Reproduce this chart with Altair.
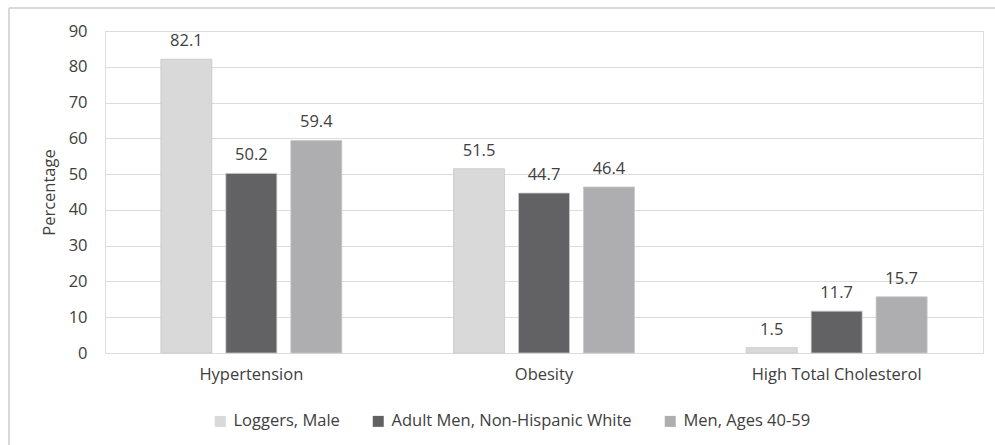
import altair as alt
import pandas as pd

categories = ["Hypertension", "Obesity", "High Total Cholesterol"]
series = ["Loggers, Male", "Adult Men, Non-Hispanic White", "Men, Ages 40-59"]
loggers = [82.1, 51.5, 1.5]
adult_men = [50.2, 44.7, 11.7]
men_40_59 = [59.4, 46.4, 15.7]
colors = ["#D9D9D9", "#626264", "#AEAEB0"]

rows = []
for i, c in enumerate(categories):
    for s, vals in zip(series, [loggers, adult_men, men_40_59]):
        rows.append({"Condition": c, "Group": s, "Value": vals[i], "Label": f"{vals[i]:.1f}"})
df = pd.DataFrame(rows)

FONT = "Open Sans"
FS = 16.5
TXT = "#404040"

x = alt.X("Condition:N", sort=categories, title=None,
          scale=alt.Scale(paddingInner=0, paddingOuter=0),
          axis=alt.Axis(labelAngle=0, labelFontSize=FS, labelColor=TXT, labelFont=FONT,
                        domain=False, ticks=False, labelPadding=13))
xoff = alt.XOffset("Group:N", sort=series,
                   scale=alt.Scale(paddingInner=0.215, paddingOuter=0.86))
y = alt.Y("Value:Q", title="Percentage",
          scale=alt.Scale(domain=[0, 90], nice=False),
          axis=alt.Axis(values=list(range(0, 91, 10)), labelFontSize=FS, labelColor=TXT,
                        labelFont=FONT, titleFont=FONT, titleFontSize=FS, titleColor=TXT,
                        titleFontWeight="normal", domain=False, ticks=False, labelPadding=18,
                        titlePadding=11, gridColor="#DCDCDC", gridWidth=1.2))

bars = alt.Chart(df).mark_bar(stroke="#C8C8C8", strokeWidth=0.8).encode(
    x=x, xOffset=xoff, y=y,
    color=alt.Color("Group:N", sort=series,
                    scale=alt.Scale(domain=series, range=colors),
                    legend=alt.Legend(title=None, orient="none", direction="horizontal",
                                      legendX=107, legendY=382, symbolType="square",
                                      symbolSize=121, symbolStrokeWidth=0,
                                      labelFontSize=FS, labelFont=FONT, labelColor=TXT,
                                      labelLimit=400, columnPadding=30, labelOffset=5)),
)

labels = alt.Chart(df).mark_text(baseline="bottom", dy=-10, fontSize=FS, font=FONT, color=TXT).encode(
    x=x, xOffset=xoff, y=y, text="Label:N"
)

top_border = alt.Chart(df).mark_rule(color="#D9D9D9", strokeWidth=2).encode(
    x=alt.value(-96), x2=alt.value(900), y=alt.value(-23)
)
left_border = alt.Chart(df).mark_rule(color="#D9D9D9", strokeWidth=2).encode(
    x=alt.value(-96), y=alt.value(-23), y2=alt.value(420)
)

chart = alt.layer(bars, labels, top_border, left_border).properties(
    width=878, height=322,
    autosize=alt.AutoSizeParams(type="none"),
    padding={"left": 105, "top": 31, "right": 12, "bottom": 92},
).configure_view(stroke=None).configure(background="white")

chart.save("out.html", embed_options={"renderer": "svg", "actions": False})
